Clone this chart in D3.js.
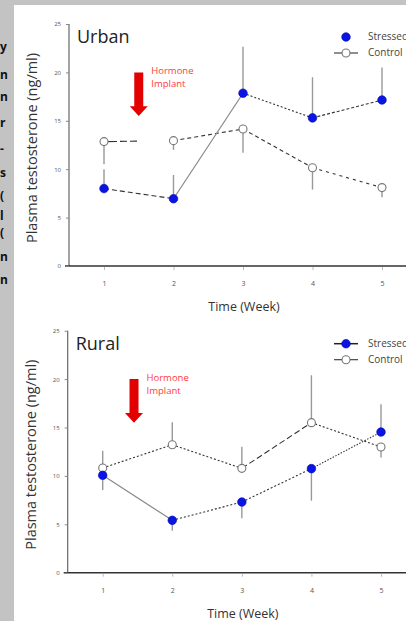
<!DOCTYPE html>
<html>
<head>
<meta charset="utf-8">
<script src="https://cdn.jsdelivr.net/npm/d3@7"></script>
<style>
  body { margin: 0; background: #c3c3c3; }
  svg { display: block; font-family: "Open Sans", sans-serif; }
</style>
</head>
<body>
<svg id="chart" width="406" height="621"></svg>
<script>
// data
const weeks = [1, 2, 3, 4, 5];
const yTicks = [0, 5, 10, 15, 20, 25];

const urbanStressed = [8.0, 6.95, 17.85, 15.3, 17.15];
const urbanStressedErr = [10.0, 9.4, 22.65, 19.5, 20.5];
const urbanControl = [12.85, 12.95, 14.15, 10.15, 8.1];
const urbanControlErr = [10.5, 12.0, 11.7, 7.9, 7.1];

const ruralStressed = [10.06, 5.41, 7.3, 10.75, 14.53];
const ruralStressedErr = [8.54, 4.34, 5.62, 7.44, 17.4];
const ruralControl = [10.82, 13.22, 10.78, 15.5, 12.99];
const ruralControlErr = [12.6, 15.54, 13.0, 20.4, 11.9];

// segment line styles between weeks
const urbanStressedDash = ["5,3", null, "2,2", "3,2"];
const urbanControlDash = ["13,3,7,3,7,200", "4,3", "4,3", "3,4"];
const ruralStressedDash = [null, "2,2", "2,2", "1.5,1.5"];
const ruralControlDash = ["2,2", "2,2", "6,3", "2,2"];

const svg = d3.select("#chart");

// white panel over the grey slide
svg.append("rect").attr("x", 14).attr("y", 5).attr("width", 392).attr("height", 616).attr("fill", "#fff");

// ends of slide text lines on the left edge
const edgeY = [51, 79, 101, 127, 153, 177, 200, 220, 237, 261, 284];
const edgeCh = ["y", "n", "n", "r", "-", "s", "(", "l", "(", "n", "n"];
svg.append("g").selectAll("text").data(edgeY).join("text")
    .attr("x", 0).attr("y", d => d)
    .attr("font-size", 12).attr("font-weight", "bold").attr("fill", "#111")
    .text((d, i) => edgeCh[i]);

function panel(opt) {
    const x = d3.scaleLinear().domain([1, 5]).range(opt.xr);
    const y = d3.scaleLinear().domain([0, 25]).range(opt.yr);
    const g = svg.append("g");

    // axes
    g.append("line").attr("x1", opt.ax).attr("x2", opt.ax)
        .attr("y1", y(25)).attr("y2", y(0)).attr("stroke", "#666").attr("stroke-width", 1.2);
    g.append("line").attr("x1", opt.ax - 4).attr("x2", 406)
        .attr("y1", y(0)).attr("y2", y(0)).attr("stroke", "#333").attr("stroke-width", 1.5);

    const yAxis = d3.axisLeft(y).tickValues(yTicks).tickSize(3).tickPadding(5);
    const ya = g.append("g").attr("transform", `translate(${opt.ax},0)`).call(yAxis);
    ya.select(".domain").remove();
    ya.selectAll("line").attr("stroke", "#888");
    ya.selectAll("text").attr("font-size", 6).attr("fill", "#555").attr("font-family", "Open Sans");

    const xAxis = d3.axisBottom(x).tickValues(weeks).tickFormat(d3.format("d")).tickSize(3).tickPadding(11);
    const xa = g.append("g").attr("transform", `translate(0,${y(0) + 1})`).call(xAxis);
    xa.select(".domain").remove();
    xa.selectAll("line").attr("stroke", "#bbb");
    xa.selectAll("text").attr("font-size", 7).attr("fill", "#555").attr("font-family", "Open Sans");

    // titles
    g.append("text").attr("x", d3.mean(opt.xr) + 1).attr("y", y(0) + 45)
        .attr("text-anchor", "middle").attr("font-size", 12.5).attr("fill", "#333")
        .text("Time (Week)");
    g.append("text")
        .attr("transform", `translate(${opt.ax - 32},${y(12.5) + 3}) rotate(-90)`)
        .attr("text-anchor", "middle").attr("font-size", 14.5).attr("fill", "#333")
        .text("Plasma testosterone (ng/ml)");
    g.append("text").attr("x", opt.ax + 8).attr("y", y(25) + 19)
        .attr("font-size", 18).attr("fill", "#222").text(opt.title);

    // hormone implant arrow
    const ax = x(opt.arrowAt);
    g.append("path")
        .attr("d", `M${ax - 4.5},${y(20)} H${ax + 4.5} V${y(16.5)} H${ax + 9} L${ax},${y(15.5)} L${ax - 9},${y(16.5)} H${ax - 4.5} Z`)
        .attr("fill", "#e30000");
    g.append("text").attr("x", ax + 12.5).attr("y", y(20) + 2)
        .attr("font-size", 9.5).attr("fill", "#ff3b3b")
        .selectAll("tspan").data(["Hormone", "Implant"]).join("tspan")
        .attr("x", ax + 12.5).attr("dy", (d, i) => i ? 13 : 0).text(d => d);

    // error bars
    function errs(vals, ends) {
        g.append("g").selectAll("line").data(weeks).join("line")
            .attr("x1", d => x(d)).attr("x2", d => x(d))
            .attr("y1", (d, i) => y(vals[i])).attr("y2", (d, i) => y(ends[i]))
            .attr("stroke", "#999").attr("stroke-width", 1.4);
    }
    errs(opt.control, opt.controlErr);
    errs(opt.stressed, opt.stressedErr);

    // connecting segments
    function segs(vals, dash) {
        g.append("g").selectAll("line").data(weeks.slice(1)).join("line")
            .attr("x1", (d, i) => x(weeks[i])).attr("y1", (d, i) => y(vals[i]))
            .attr("x2", d => x(d)).attr("y2", (d, i) => y(vals[i + 1]))
            .attr("stroke", (d, i) => dash[i] ? "#333" : "#888")
            .attr("stroke-width", (d, i) => dash[i] ? 1.1 : 1.2)
            .attr("stroke-dasharray", (d, i) => dash[i]);
    }
    segs(opt.control, opt.controlDash);
    segs(opt.stressed, opt.stressedDash);

    // points
    g.append("g").selectAll("circle").data(opt.control).join("circle")
        .attr("cx", (d, i) => x(weeks[i])).attr("cy", d => y(d)).attr("r", 4)
        .attr("fill", "#fff").attr("stroke", "#777").attr("stroke-width", 1.1);
    g.append("g").selectAll("circle").data(opt.stressed).join("circle")
        .attr("cx", (d, i) => x(weeks[i])).attr("cy", d => y(d)).attr("r", 4.3)
        .attr("fill", "#0a14e6").attr("stroke", "#0008a0").attr("stroke-width", 0.6);

    // legend
    const ly = y(25) + 13;
    const leg = g.append("g").attr("transform", `translate(346,${ly})`);
    if (opt.legendLine) {
        leg.append("line").attr("x1", -12).attr("x2", 12).attr("stroke", "#222").attr("stroke-width", 1.5);
    }
    leg.append("circle").attr("r", 4.3).attr("fill", "#0a14e6").attr("stroke", "#0008a0").attr("stroke-width", 0.6);
    leg.append("text").attr("x", 22).attr("y", 3).attr("font-size", 10).attr("fill", "#444").text("Stressed");
    const leg2 = g.append("g").attr("transform", `translate(346,${ly + 16})`);
    leg2.append("line").attr("x1", -12).attr("x2", 12).attr("stroke", "#333").attr("stroke-width", 1.1);
    leg2.append("circle").attr("r", 4).attr("fill", "#fff").attr("stroke", "#777").attr("stroke-width", 1.1);
    leg2.append("text").attr("x", 22).attr("y", 3).attr("font-size", 10).attr("fill", "#444").text("Control");
}

panel({
    title: "Urban", xr: [104, 382], yr: [266, 24], ax: 69, arrowAt: 1.5,
    stressed: urbanStressed, stressedErr: urbanStressedErr, stressedDash: urbanStressedDash,
    control: urbanControl, controlErr: urbanControlErr, controlDash: urbanControlDash,
    legendLine: false
});
panel({
    title: "Rural", xr: [102.7, 381], yr: [572.7, 330.7], ax: 67.7, arrowAt: 1.45,
    stressed: ruralStressed, stressedErr: ruralStressedErr, stressedDash: ruralStressedDash,
    control: ruralControl, controlErr: ruralControlErr, controlDash: ruralControlDash,
    legendLine: true
});
</script>
</body>
</html>
